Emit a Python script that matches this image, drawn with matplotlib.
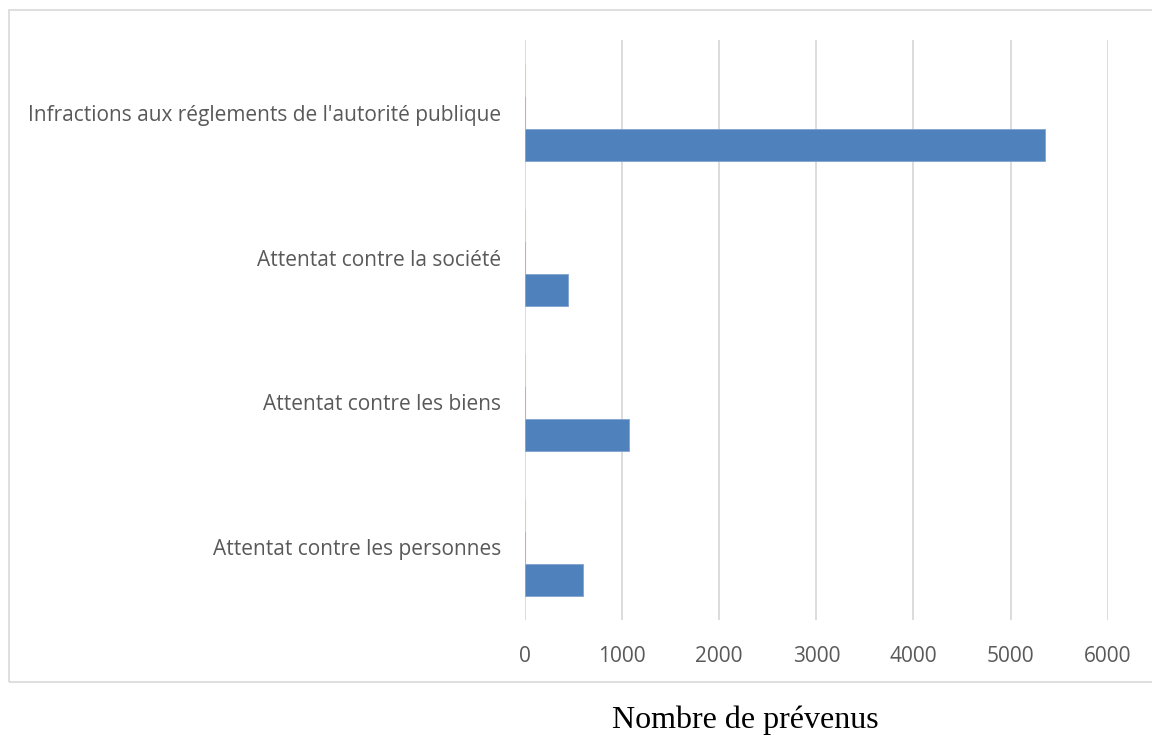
import numpy as np
import matplotlib.pyplot as plt
from matplotlib.patches import Rectangle

categories = ["Attentat contre les personnes", "Attentat contre les biens",
              "Attentat contre la société", "Infractions aux réglements de l'autorité publique"]
prevenus = [600, 1070, 440, 5350]
serie2 = [0, 0, 0, 0]
serie3 = [0, 0, 0, 0]
xticks = [0, 1000, 2000, 3000, 4000, 5000, 6000]

W, H = 1152, 738
fig = plt.figure(figsize=(W / 100, H / 100), dpi=100)
fig.patches.append(Rectangle((9 / W, (H - 682) / H), 1.2, (682 - 10) / H,
                             transform=fig.transFigure, fill=False,
                             edgecolor="#D9D9D9", linewidth=1.2))

ax = fig.add_axes([525 / W, (H - 620) / H, 582.7 / W, 580 / H])
y = np.arange(len(categories))
h = 0.222
ax.barh(y - h, prevenus, h, color="#4F81BD", edgecolor="#7FA3D1", linewidth=0.6, zorder=3)
ax.barh(y, serie2, h, color="#C0504D", edgecolor="#E3A3A1", linewidth=0.8, zorder=3)
ax.barh(y + h, serie3, h, color="#9BBB59", edgecolor="#C9DCA3", linewidth=0.8, zorder=3)

ax.set_xlim(0, 6000)
ax.set_ylim(-0.5, len(categories) - 0.5)
ax.set_xticks(xticks)
ax.set_yticks(y)
ax.set_yticklabels(categories)
ax.grid(True, axis="x", color="#D9D9D9", linewidth=1.3, zorder=0)
for s in ax.spines.values():
    s.set_visible(False)
ax.tick_params(axis="both", length=0, colors="#595959", labelsize=15)
ax.tick_params(axis="y", pad=17)
ax.tick_params(axis="x", pad=19)
for lab in ax.get_xticklabels() + ax.get_yticklabels():
    lab.set_fontfamily("Open Sans")

fig.text(745 / W, (H - 720) / H, "Nombre de prévenus", ha="center", va="center",
         fontsize=23, family="Liberation Serif", color="black")

plt.savefig("out.png", dpi=100)
